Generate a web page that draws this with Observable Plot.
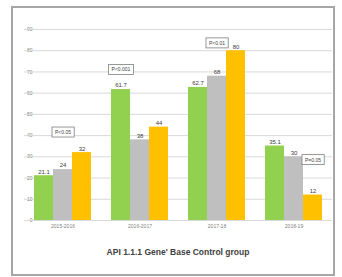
<!DOCTYPE html>
<html><head><meta charset="utf-8">
<script src="https://cdn.jsdelivr.net/npm/d3@7"></script>
<script src="https://cdn.jsdelivr.net/npm/@observablehq/plot@0.6"></script>
<style>
body{margin:0;background:#fff;font-family:"Liberation Sans",Arial,sans-serif;}
#frame{position:absolute;left:11px;top:6px;width:324px;height:270px;box-sizing:border-box;border:2px solid #a6a6a6;background:#fff;}
#title{text-align:center;font-size:8.5px;font-weight:bold;color:#404040;margin-top:13px;padding-left:10px;}
</style></head><body>
<div id="frame"><div id="chart"></div><div id="title"></div></div>
<script>
const periods = ["2015-2016", "2016-2017", "2017-18", "2018-19"];
const series = ["Group A", "Group B", "Group C"];
const groupA = [21.1, 61.7, 62.7, 35.1];
const groupB = [24, 38, 68, 30];
const groupC = [32, 44, 80, 12];
const colors = ["#92d050", "#bfbfbf", "#ffc000"];
const yTicks = [0, 10, 20, 30, 40, 50, 60, 70, 80, 90];
const annotationPeriods = ["2015-2016", "2016-2017", "2017-18", "2018-19"];
const annotationSeries = ["Group B", "Group A", "Group B", "Group C"];
const annotationTexts = ["P<0.05", "P<0.001", "P<0.01", "P=0.05"];
const annotationValues = [41.5, 71, 83.5, 28.5];
const titleText = "API 1.1.1 Gene' Base Control group";

const seriesValues = [groupA, groupB, groupC];
const rows = [];
periods.forEach((p, i) => series.forEach((s, j) => rows.push({period: p, series: s, value: seriesValues[j][i]})));
const notes = annotationTexts.map((t, i) => ({period: annotationPeriods[i], series: annotationSeries[i], text: t, value: annotationValues[i]}));

const chart = Plot.plot({
  width: 320,
  height: 226,
  marginLeft: 11,
  marginRight: 1,
  marginTop: 21,
  marginBottom: 14,
  style: {fontSize: "5px", color: "#7f7f7f", fontFamily: "Liberation Sans, Arial, sans-serif", background: "transparent", overflow: "visible"},
  fx: {domain: periods, paddingInner: 0.26, paddingOuter: 0.13, label: null, axis: "bottom", tickSize: 0, tickPadding: 4},
  x: {domain: series, padding: 0, axis: null},
  y: {domain: [0, 90], ticks: yTicks, axis: "left", tickSize: 0, tickPadding: 2, label: null},
  color: {domain: series, range: colors},
  marks: [
    Plot.ruleY(yTicks, {stroke: "#d9d9d9", strokeWidth: 1, insetLeft: -10, insetRight: -10}),
    Plot.barY(rows, {fx: "period", x: "series", y: "value", fill: "series"}),
    Plot.text(rows, {fx: "period", x: "series", y: "value", text: d => String(d.value), dy: -4, fontSize: 6, fill: "#404040"}),
    Plot.text(notes, {fx: "period", x: "series", y: "value", text: "text", fontSize: 5, fill: "#404040", className: "note"})
  ]
});
document.getElementById("chart").appendChild(chart);
document.getElementById("title").textContent = titleText;

// draw boxes behind the annotation texts
chart.querySelectorAll("g.note text").forEach(t => {
  const b = t.getBBox();
  const r = document.createElementNS("http://www.w3.org/2000/svg", "rect");
  r.setAttribute("x", b.x - 3);
  r.setAttribute("y", b.y - 2);
  r.setAttribute("width", b.width + 6);
  r.setAttribute("height", b.height + 4);
  r.setAttribute("fill", "#fff");
  r.setAttribute("stroke", "#7f7f7f");
  r.setAttribute("stroke-width", "0.8");
  if (t.getAttribute("transform")) r.setAttribute("transform", t.getAttribute("transform"));
  t.parentNode.insertBefore(r, t);
});
</script>
</body></html>
